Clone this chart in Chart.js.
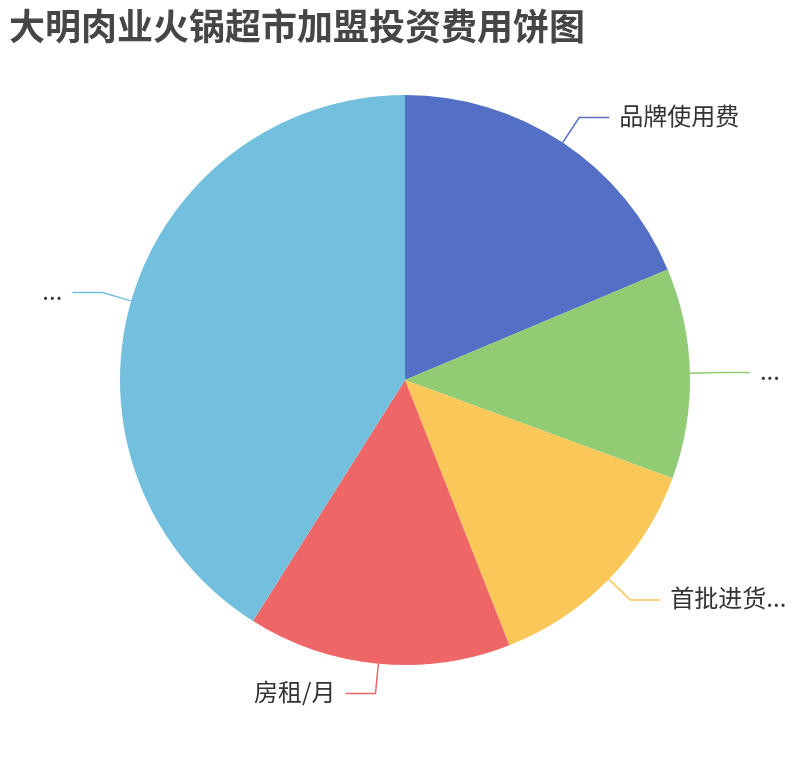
<!DOCTYPE html>
<html>
<head>
<meta charset="utf-8">
<script src="https://cdn.jsdelivr.net/npm/chart.js@4"></script>
<style>
html,body{margin:0;padding:0;background:#fff;}
#c{display:block;}
</style>
</head>
<body>
<canvas id="c" width="810" height="760"></canvas>
<script>
const titleText = "大明肉业火锅超市加盟投资费用饼图";
const categories = ["品牌使用费", "...", "首批进货...", "房租/月", "..."];
const values = [2.5, 1.6, 1.8, 2.0, 5.5];
const colors = ["#5470c6", "#91cc75", "#fac858", "#ee6666", "#73c0de"];

const FONT = '"Noto Sans CJK SC", "Noto Sans", sans-serif';

const overlay = {
  id: 'overlay',
  afterDraw(chart) {
    const ctx = chart.ctx;
    ctx.save();
    // title
    ctx.fillStyle = '#464646';
    ctx.font = 'bold 36px ' + FONT;
    ctx.textAlign = 'left';
    ctx.textBaseline = 'middle';
    ctx.fillText(titleText, 9, 26);
    // labels with leader lines
    const meta = chart.getDatasetMeta(0);
    meta.data.forEach((arc, i) => {
      const p = arc.getProps(['x','y','startAngle','endAngle','outerRadius'], true);
      const mid = (p.startAngle + p.endAngle) / 2;
      const cos = Math.cos(mid), sin = Math.sin(mid);
      const x0 = p.x + cos * p.outerRadius, y0 = p.y + sin * p.outerRadius;
      const x1 = p.x + cos * (p.outerRadius + 30), y1 = p.y + sin * (p.outerRadius + 30);
      const dir = cos >= 0 ? 1 : -1;
      const x2 = x1 + dir * 30;
      ctx.strokeStyle = colors[i];
      ctx.lineWidth = 1.5;
      ctx.beginPath();
      ctx.moveTo(x0, y0);
      ctx.lineTo(x1, y1);
      ctx.lineTo(x2, y1);
      ctx.stroke();
      ctx.fillStyle = '#333';
      ctx.font = '24px ' + FONT;
      ctx.textBaseline = 'middle';
      ctx.textAlign = dir > 0 ? 'left' : 'right';
      ctx.fillText(categories[i], x2 + dir * 10, y1 - 2);
    });
    ctx.restore();
  }
};

new Chart(document.getElementById('c'), {
  type: 'pie',
  data: {
    labels: categories,
    datasets: [{
      data: values,
      backgroundColor: colors,
      borderWidth: 0,
      hoverOffset: 0
    }]
  },
  options: {
    responsive: false,
    animation: false,
    devicePixelRatio: 1,
    layout: { padding: { top: 95, bottom: 95, left: 120, right: 120 } },
    plugins: {
      legend: { display: false },
      tooltip: { enabled: false },
      title: { display: false }
    }
  },
  plugins: [overlay]
});
</script>
</body>
</html>
